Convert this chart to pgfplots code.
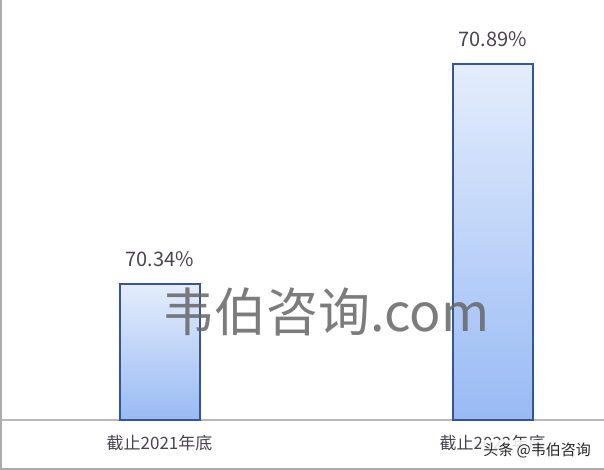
\documentclass[border=0pt]{standalone}
\usepackage{fontspec}
\usepackage{pgfplots}
\pgfplotsset{compat=1.18}
\newfontfamily\cjk{Noto Sans CJK SC}
\definecolor{barTop}{HTML}{E4EDFC}
\definecolor{barBot}{HTML}{98BAF4}
\definecolor{barEdge}{HTML}{34559A}
\definecolor{txt}{HTML}{4A4452}
\begin{document}
\begin{tikzpicture}
\useasboundingbox (0,-25pt) rectangle (302pt,210pt);
\fill[white] (0,-25pt) rectangle (302pt,210pt);
\begin{axis}[
  scale only axis,
  width=302pt, height=210pt,
  xmin=-0.479, xmax=1.3348,
  ymin=70, ymax=71.05,
  axis x line=bottom, axis y line=none,
  x axis line style={-, draw=gray!55, line width=0.6pt},
  xtick={0,1},
  xticklabels={截止2021年底,截止2022年底},
  major tick length=0pt,
  xticklabel style={font=\cjk\fontsize{8.5}{9}\selectfont, text=txt, anchor=center, yshift=-11.5pt},
  ytick=\empty,
  clip=false,
  barstyle/.style={ybar, bar width=40pt, bar shift=0pt, draw=barEdge, line width=1pt,
    top color=barTop, bottom color=barBot,
    nodes near coords, point meta=explicit symbolic,
    every node near coord/.style={font=\cjk\fontsize{10}{11}\selectfont, text=txt, anchor=center, yshift=12.5pt}},
]
\addplot[barstyle] coordinates {(0,70.34) [70.34\%]};
\addplot[barstyle] coordinates {(1,70.89) [70.89\%]};
\node[font=\cjk\fontsize{26}{28}\selectfont, text=black!60, opacity=0.85] at (axis cs:0.5,70.27) {韦伯咨询.com};
\node[font=\cjk\fontsize{7.5}{8}\selectfont, text=black!85, fill=white, fill opacity=0.85, text opacity=1, inner sep=1pt, anchor=west] at (axis cs:0.965,69.925) {头条 @韦伯咨询};
\end{axis}
\draw[gray!65, line width=1pt] (0.5pt,210pt) -- (0.5pt,-24.5pt) -- (302pt,-24.5pt);
\end{tikzpicture}
\end{document}
